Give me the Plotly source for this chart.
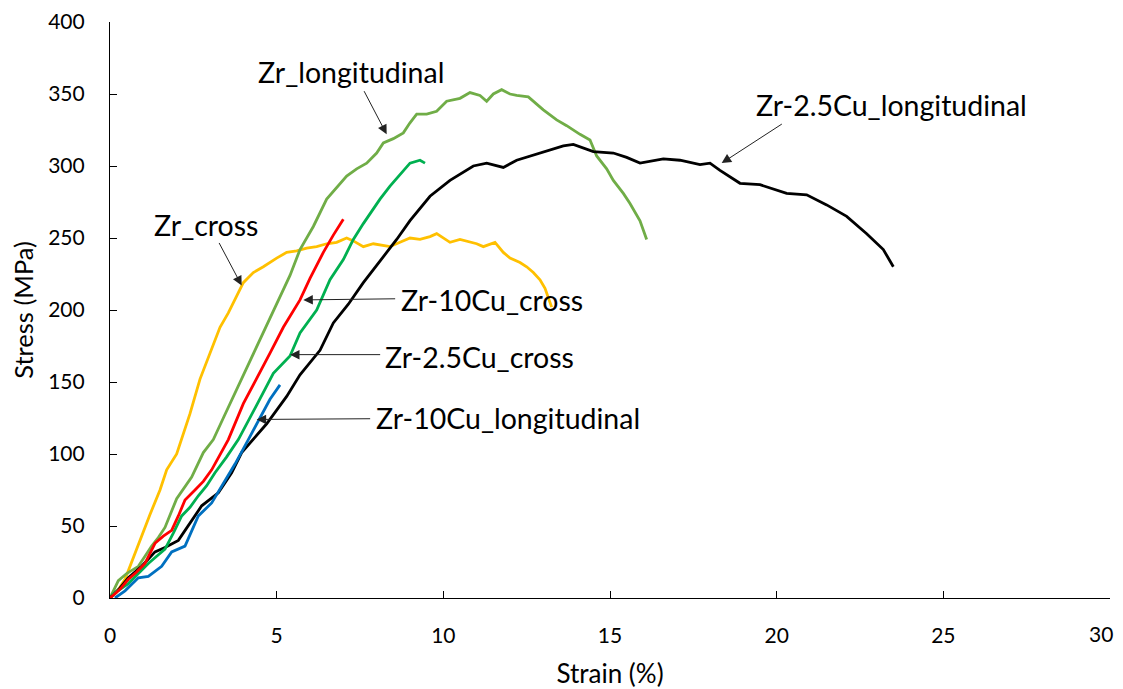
import plotly.graph_objects as go

# ---- data ----
zr_cross_strain = [0, 0.2, 0.45, 0.7, 0.85, 1.2, 1.5, 1.7, 2.0, 2.15, 2.4, 2.7, 3.0, 3.3, 3.55, 3.8, 4.0, 4.3, 4.6, 5.0,
                   5.3, 5.6, 5.9, 6.2, 6.5, 6.8, 7.1, 7.3, 7.6, 7.9, 8.2, 8.4, 8.7, 9.0, 9.3, 9.6, 9.8, 10.0, 10.2, 10.5,
                   10.7, 11.0, 11.2, 11.55, 11.8, 12.0, 12.3, 12.5, 12.7, 12.9, 13.05, 13.15, 13.25]
zr_cross_stress = [0, 4, 13, 28, 38, 58, 75, 89, 100, 110, 128, 152, 170, 188, 198, 210, 219, 226, 230, 236,
                   240, 241, 243, 244, 246, 247, 250, 248, 244, 246, 245, 244, 247, 250, 249, 251, 253, 250, 247, 249,
                   248, 246, 244, 247, 240, 236, 233, 230, 226, 221, 215, 209, 202]

zr_long_strain = [0, 0.25, 0.5, 0.85, 1.05, 1.25, 1.45, 1.65, 2.0, 2.45, 2.8, 3.1, 3.4, 3.8, 4.1, 4.4, 4.7, 5.05, 5.4,
                  5.7, 6.1, 6.5, 6.8, 7.1, 7.4, 7.7, 8.0, 8.2, 8.5, 8.8, 9.0, 9.2, 9.5, 9.8, 10.1, 10.5, 10.8, 11.1,
                  11.3, 11.5, 11.75, 12.0, 12.2, 12.55, 12.8, 13.0, 13.4, 13.7, 14.1, 14.4, 14.6, 14.9, 15.1, 15.4,
                  15.6, 15.9, 16.1]
zr_long_stress = [0, 12, 17, 22, 29, 36, 42, 49, 69, 84, 101, 110, 125, 145, 160, 175, 190, 207, 224,
                  242, 258, 277, 285, 293, 298, 302, 309, 316, 319, 323, 330, 336, 336, 338, 345, 347, 351, 349,
                  345, 350, 353, 350, 349, 348, 343, 339, 332, 328, 322, 318, 307, 298, 290, 281,
                  274, 262, 249]

zr10_cross_strain = [0, 0.3, 0.55, 0.8, 1.05, 1.35, 1.6, 1.85, 2.05, 2.25, 2.55, 2.8, 3.05, 3.3, 3.55, 4.0, 4.4, 4.8,
                     5.2, 5.7, 6.0, 6.4, 6.7, 7.0]
zr10_cross_stress = [0, 6, 13, 18, 24, 38, 43, 47, 57, 68, 75, 81, 89, 100, 110, 135, 152, 170,
                     188, 207, 222, 240, 252, 263]

zr25_cross_strain = [0.05, 0.3, 0.55, 0.85, 1.15, 1.4, 1.65, 1.9, 2.15, 2.4, 2.65, 2.9, 3.15, 3.5, 3.85, 4.4, 4.9,
                     5.4, 5.7, 6.2, 6.6, 7.0, 7.3, 7.6, 7.8, 8.1, 8.4, 8.7, 9.0, 9.3, 9.45]
zr25_cross_stress = [2, 6, 10, 17, 24, 29, 34, 45, 57, 63, 71, 78, 87, 98, 110, 134, 156,
                     168, 184, 200, 221, 235, 249, 260, 267, 277, 286, 294, 302, 304, 302]

zr10_long_strain = [0.15, 0.45, 0.85, 1.15, 1.55, 1.85, 2.25, 2.65, 3.05, 3.45, 3.75, 4.15, 4.4, 4.8, 5.1]
zr10_long_stress = [0, 5, 14, 15, 22, 32, 36, 57, 66, 81, 93, 110, 121, 138, 148]

zr25_long_strain = [0, 0.3, 0.55, 0.95, 1.35, 1.65, 2.05, 2.45, 2.75, 3.25, 3.65, 3.95, 4.3, 4.7, 5.3, 5.7, 6.3, 6.7,
                    7.15, 7.6, 8.0, 8.6, 9.0, 9.6, 10.2, 10.9, 11.3, 11.8, 12.2, 12.6, 13.0, 13.6, 13.9, 14.5, 15.1,
                    15.5, 15.9, 16.6, 17.1, 17.7, 18.0, 18.3, 18.9, 19.5, 20.3, 20.9, 21.5, 22.1, 22.7, 23.2, 23.5]
zr25_long_stress = [0, 7, 14, 22, 32, 35, 40, 54, 64, 73, 87, 101, 110, 121, 140, 155, 172, 191,
                    204, 219, 231, 249, 262, 279, 290, 300, 302, 299, 304, 307, 310, 314, 315, 310, 309,
                    306, 302, 305, 304, 301, 302, 297, 288, 287, 281, 280, 273, 265, 253, 242, 230]

x_ticks = [0, 5, 10, 15, 20, 25, 30]
x_tick_labels = ["0", "5", "10", "15", "20", "25", "30"]
y_ticks = [0, 50, 100, 150, 200, 250, 300, 350, 400]

# label: (text x, text y, arrow tail x, tail y, arrow head x, head y)
labels = [
    ("Zr_longitudinal", 7.23, 365.5, 7.6, 353, 8.3, 322),
    ("Zr-2.5Cu_longitudinal", 23.43, 342.6, 20.2, 329.8, 18.35, 302),
    ("Zr_cross", 2.88, 259, 3.25, 247.6, 3.95, 217),
    ("Zr-10Cu_cross", 11.46, 207, 8.6, 207.8, 5.8, 207),
    ("Zr-2.5Cu_cross", 11.07, 167.6, 8.15, 169, 5.4, 169),
    ("Zr-10Cu_longitudinal", 11.94, 125, 7.85, 124.5, 4.4, 124),
]

FONT = "Lato, Open Sans, sans-serif"
TICK_SIZE = 21

fig = go.Figure()
series = [
    (zr_cross_strain, zr_cross_stress, "#FFC000", "Zr_cross"),
    (zr_long_strain, zr_long_stress, "#70AD47", "Zr_longitudinal"),
    (zr25_long_strain, zr25_long_stress, "#000000", "Zr-2.5Cu_longitudinal"),
    (zr25_cross_strain, zr25_cross_stress, "#00B050", "Zr-2.5Cu_cross"),
    (zr10_cross_strain, zr10_cross_stress, "#FF0000", "Zr-10Cu_cross"),
    (zr10_long_strain, zr10_long_stress, "#0070C0", "Zr-10Cu_longitudinal"),
]
for xs, ys, col, name in series:
    fig.add_trace(go.Scatter(x=xs, y=ys, mode="lines", name=name,
                             line=dict(color=col, width=2.8), showlegend=False))

for text, tx, ty, ax_, ay_, hx, hy in labels:
    fig.add_annotation(x=tx, y=ty, text=text, showarrow=False, xref="x", yref="y",
                       font=dict(family=FONT, size=28.5, color="#000000"))
    fig.add_annotation(x=hx, y=hy, ax=ax_, ay=ay_, axref="x", ayref="y", xref="x", yref="y",
                       text="", showarrow=True, arrowhead=2, arrowsize=1.9, arrowwidth=1,
                       arrowcolor="#222222", standoff=0, startstandoff=0)

# the last x tick label sits at the very edge of the page: draw it as an annotation,
# nudged left so it is not cut by the page edge
fig.add_annotation(x=x_ticks[-1], y=0, xref="x", yref="y", text=x_tick_labels[-1], showarrow=False,
                   xanchor="center", yanchor="middle", xshift=-9, yshift=-35,
                   font=dict(family=FONT, size=TICK_SIZE, color="#000000"))

# the page shows the figure 8 px in from the top-left corner
fig.update_layout(
    width=1115, height=681,
    margin=dict(l=102, r=13, t=14, b=91),
    paper_bgcolor="white", plot_bgcolor="white",
    font=dict(family=FONT, color="#000000"),
    showlegend=False,
)
fig.update_xaxes(range=[0, 30], tickvals=x_ticks, ticktext=x_tick_labels[:-1] + [""], ticks="inside",
                 ticklen=7, tickwidth=1.2, tickcolor="#000000", showline=True, linecolor="#000000",
                 linewidth=1.2, showgrid=False, zeroline=False, tickfont=dict(size=TICK_SIZE, family=FONT),
                 ticklabelstandoff=19, automargin=False,
                 title=dict(text="Strain (%)", font=dict(size=26, family=FONT), standoff=22))
fig.update_yaxes(range=[0, 400], tickvals=y_ticks, ticks="inside", ticklen=7, tickwidth=1.2,
                 tickcolor="#000000", showline=True, linecolor="#000000", linewidth=1.2,
                 showgrid=False, zeroline=False, tickfont=dict(size=TICK_SIZE, family=FONT),
                 ticklabelstandoff=20, automargin=False,
                 title=dict(text="Stress (MPa)", font=dict(size=25.5, family=FONT), standoff=14))

fig.write_html("out.html")
